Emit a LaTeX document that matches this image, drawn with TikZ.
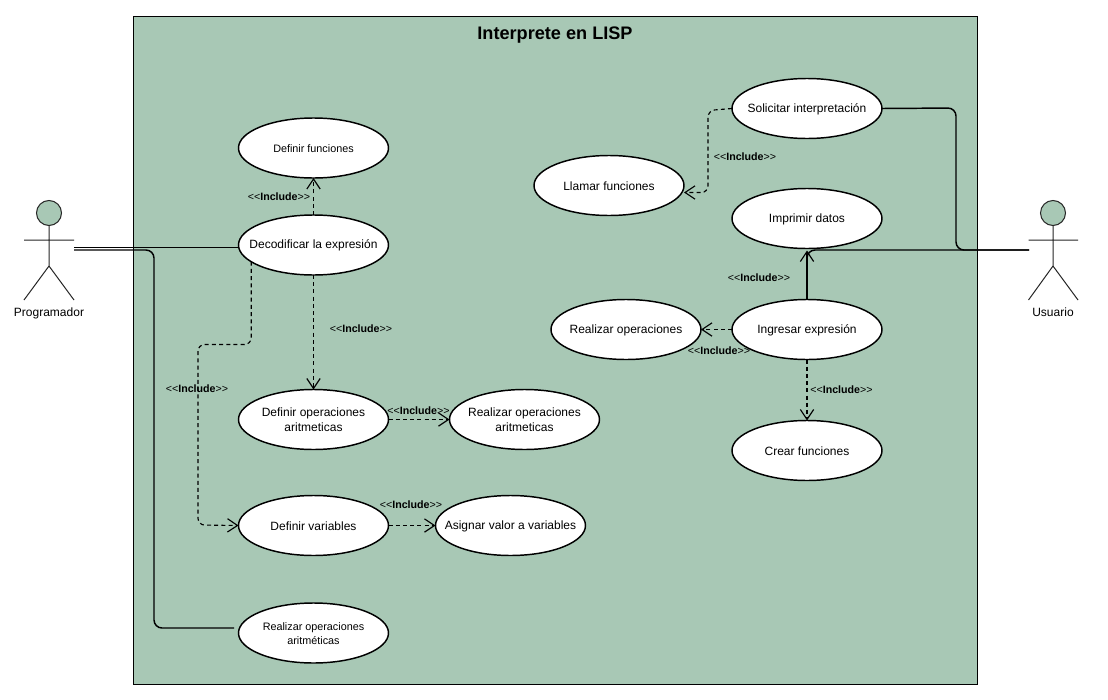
\documentclass[tikz,border=0pt]{standalone}
\usepackage{fontspec}
\setmainfont{Liberation Sans}
\usetikzlibrary{shapes.geometric,arrows.meta}
\definecolor{panel}{HTML}{A8C8B5}
\tikzset{
  uc/.style={draw=black,fill=white,ellipse,line width=1.1pt,minimum width=112.5pt,minimum height=45pt,inner sep=-30pt,outer sep=0pt,align=center,font=\fontsize{9}{11.5}\selectfont},
  ucsmall/.style={uc,font=\fontsize{8.1}{10.5}\selectfont},
  tag/.style={inner sep=0pt,font=\fontsize{8}{9}\selectfont},
  actorname/.style={inner sep=0pt,anchor=base,font=\fontsize{9}{11}\selectfont},
  limb/.style={draw=black!85,line width=0.75pt},
  assoc/.style={draw=black,line width=1.1pt,rounded corners=6pt},
  incl/.style={draw=black,line width=0.85pt,dash pattern=on 3pt off 2.4pt,rounded corners=5pt,-{Straight Barb[length=7.5pt,width=10pt,line width=0.85pt]}},
  inclsolid/.style={draw=black,line width=1.1pt,-{Straight Barb[length=7.5pt,width=10pt,line width=0.85pt]}}
}
\newcommand{\inc}{<{}<\textbf{Include}>{}>}
\newcommand{\st}{\rule{0pt}{7.2pt}}
\begin{document}
\begin{tikzpicture}[x=0.75pt,y=-0.75pt]
\useasboundingbox (0,0) rectangle (1108,700);
\fill[white] (0,0) rectangle (1108,700);
\draw[fill=panel,draw=black,line width=0.85pt] (133.5,16.5) rectangle (977.5,684.5);
\node[inner sep=0pt,font=\fontsize{13.6}{15}\selectfont\bfseries] (title) at (555,35.5) {Interprete en LISP};

% actors
\draw[limb,fill=panel] (49,213) circle (12.5);
\draw[limb] (24,240) -- (74,240) (49,225.5) -- (49,266) -- (24,300) (49,266) -- (74,300);
\node[actorname] (progname) at (49,316) {Programador};
\draw[limb,fill=panel] (1053,213) circle (12.5);
\draw[limb] (1028.5,240) -- (1078,240) (1053,225.5) -- (1053,266) -- (1028.5,300) (1053,266) -- (1078,300);
\node[actorname] (usrname) at (1053,316) {Usuario};
\coordinate (progA) at (74,247.5);
\coordinate (progB) at (74,250);
\coordinate (usr) at (1029,250);

% use cases
\node[ucsmall] (deffun) at (313.5,148) {\st Definir funciones};
\node[uc] (dec) at (313.5,245) {\st Decodificar la expresión};
\node[uc] (defop) at (313.5,419.5) {\st Definir operaciones\\aritmeticas};
\node[uc] (realar) at (524.5,419.5) {\st Realizar operaciones\\aritmeticas};
\node[uc] (defvar) at (313.5,525.5) {\st Definir variables};
\node[uc] (asig) at (510.5,525.5) {\st Asignar valor a variables};
\node[ucsmall] (realac) at (313.5,633) {\st Realizar operaciones\\aritméticas};
\node[uc] (sol) at (807,108.5) {\st Solicitar interpretación};
\node[uc] (llam) at (609,185.5) {\st Llamar funciones};
\node[uc] (imp) at (807,218.5) {\st Imprimir datos};
\node[uc] (realop) at (626,329.5) {\st Realizar operaciones};
\node[uc] (ing) at (807,329.5) {\st Ingresar expresión};
\node[uc] (crear) at (807,450.5) {\st Crear funciones};

% associations
\draw[assoc] (progA) -- (dec.west |- progA);
\draw[assoc] (progB) -- (154,250) -- (154,628) -- (234,628);
\draw[assoc] (sol.east) -- (956,108) -- (956,250) -- (usr);
\draw[assoc] (usr) -- (807,250) -- (ing.north);
\draw[inclsolid] (ing.north) -- (807,250.5);

% includes
\draw[incl] (dec.north) -- (deffun.south);
\draw[incl] (dec.south) -- (defop.north);
\draw[incl] (dec.195) -- (dec.195 |- 0,344.5) -- (198,344.5) -- (198,525) -- (defvar.west);
\draw[incl] (defop.east) -- (realar.west);
\draw[incl] (defvar.east) -- (asig.west);
\draw[incl] (sol.west) -- (708,110.5) -- (708,192.5) -- (llam.east |- 0,192.5);
\draw[incl] (ing.west) -- (realop.east);
\draw[incl] (ing.south) -- (crear.north);

% labels
\node[tag] (t1) at (279,197) {\inc};
\node[tag] (t2) at (361,329) {\inc};
\node[tag] (t3) at (197,389) {\inc};
\node[tag] (t4) at (418.5,411) {\inc};
\node[tag] (t5) at (411,505) {\inc};
\node[tag] (t6) at (745,157) {\inc};
\node[tag] (t7) at (759,278) {\inc};
\node[tag] (t8) at (719,351) {\inc};
\node[tag] (t9) at (841.5,390) {\inc};
\end{tikzpicture}
\end{document}
